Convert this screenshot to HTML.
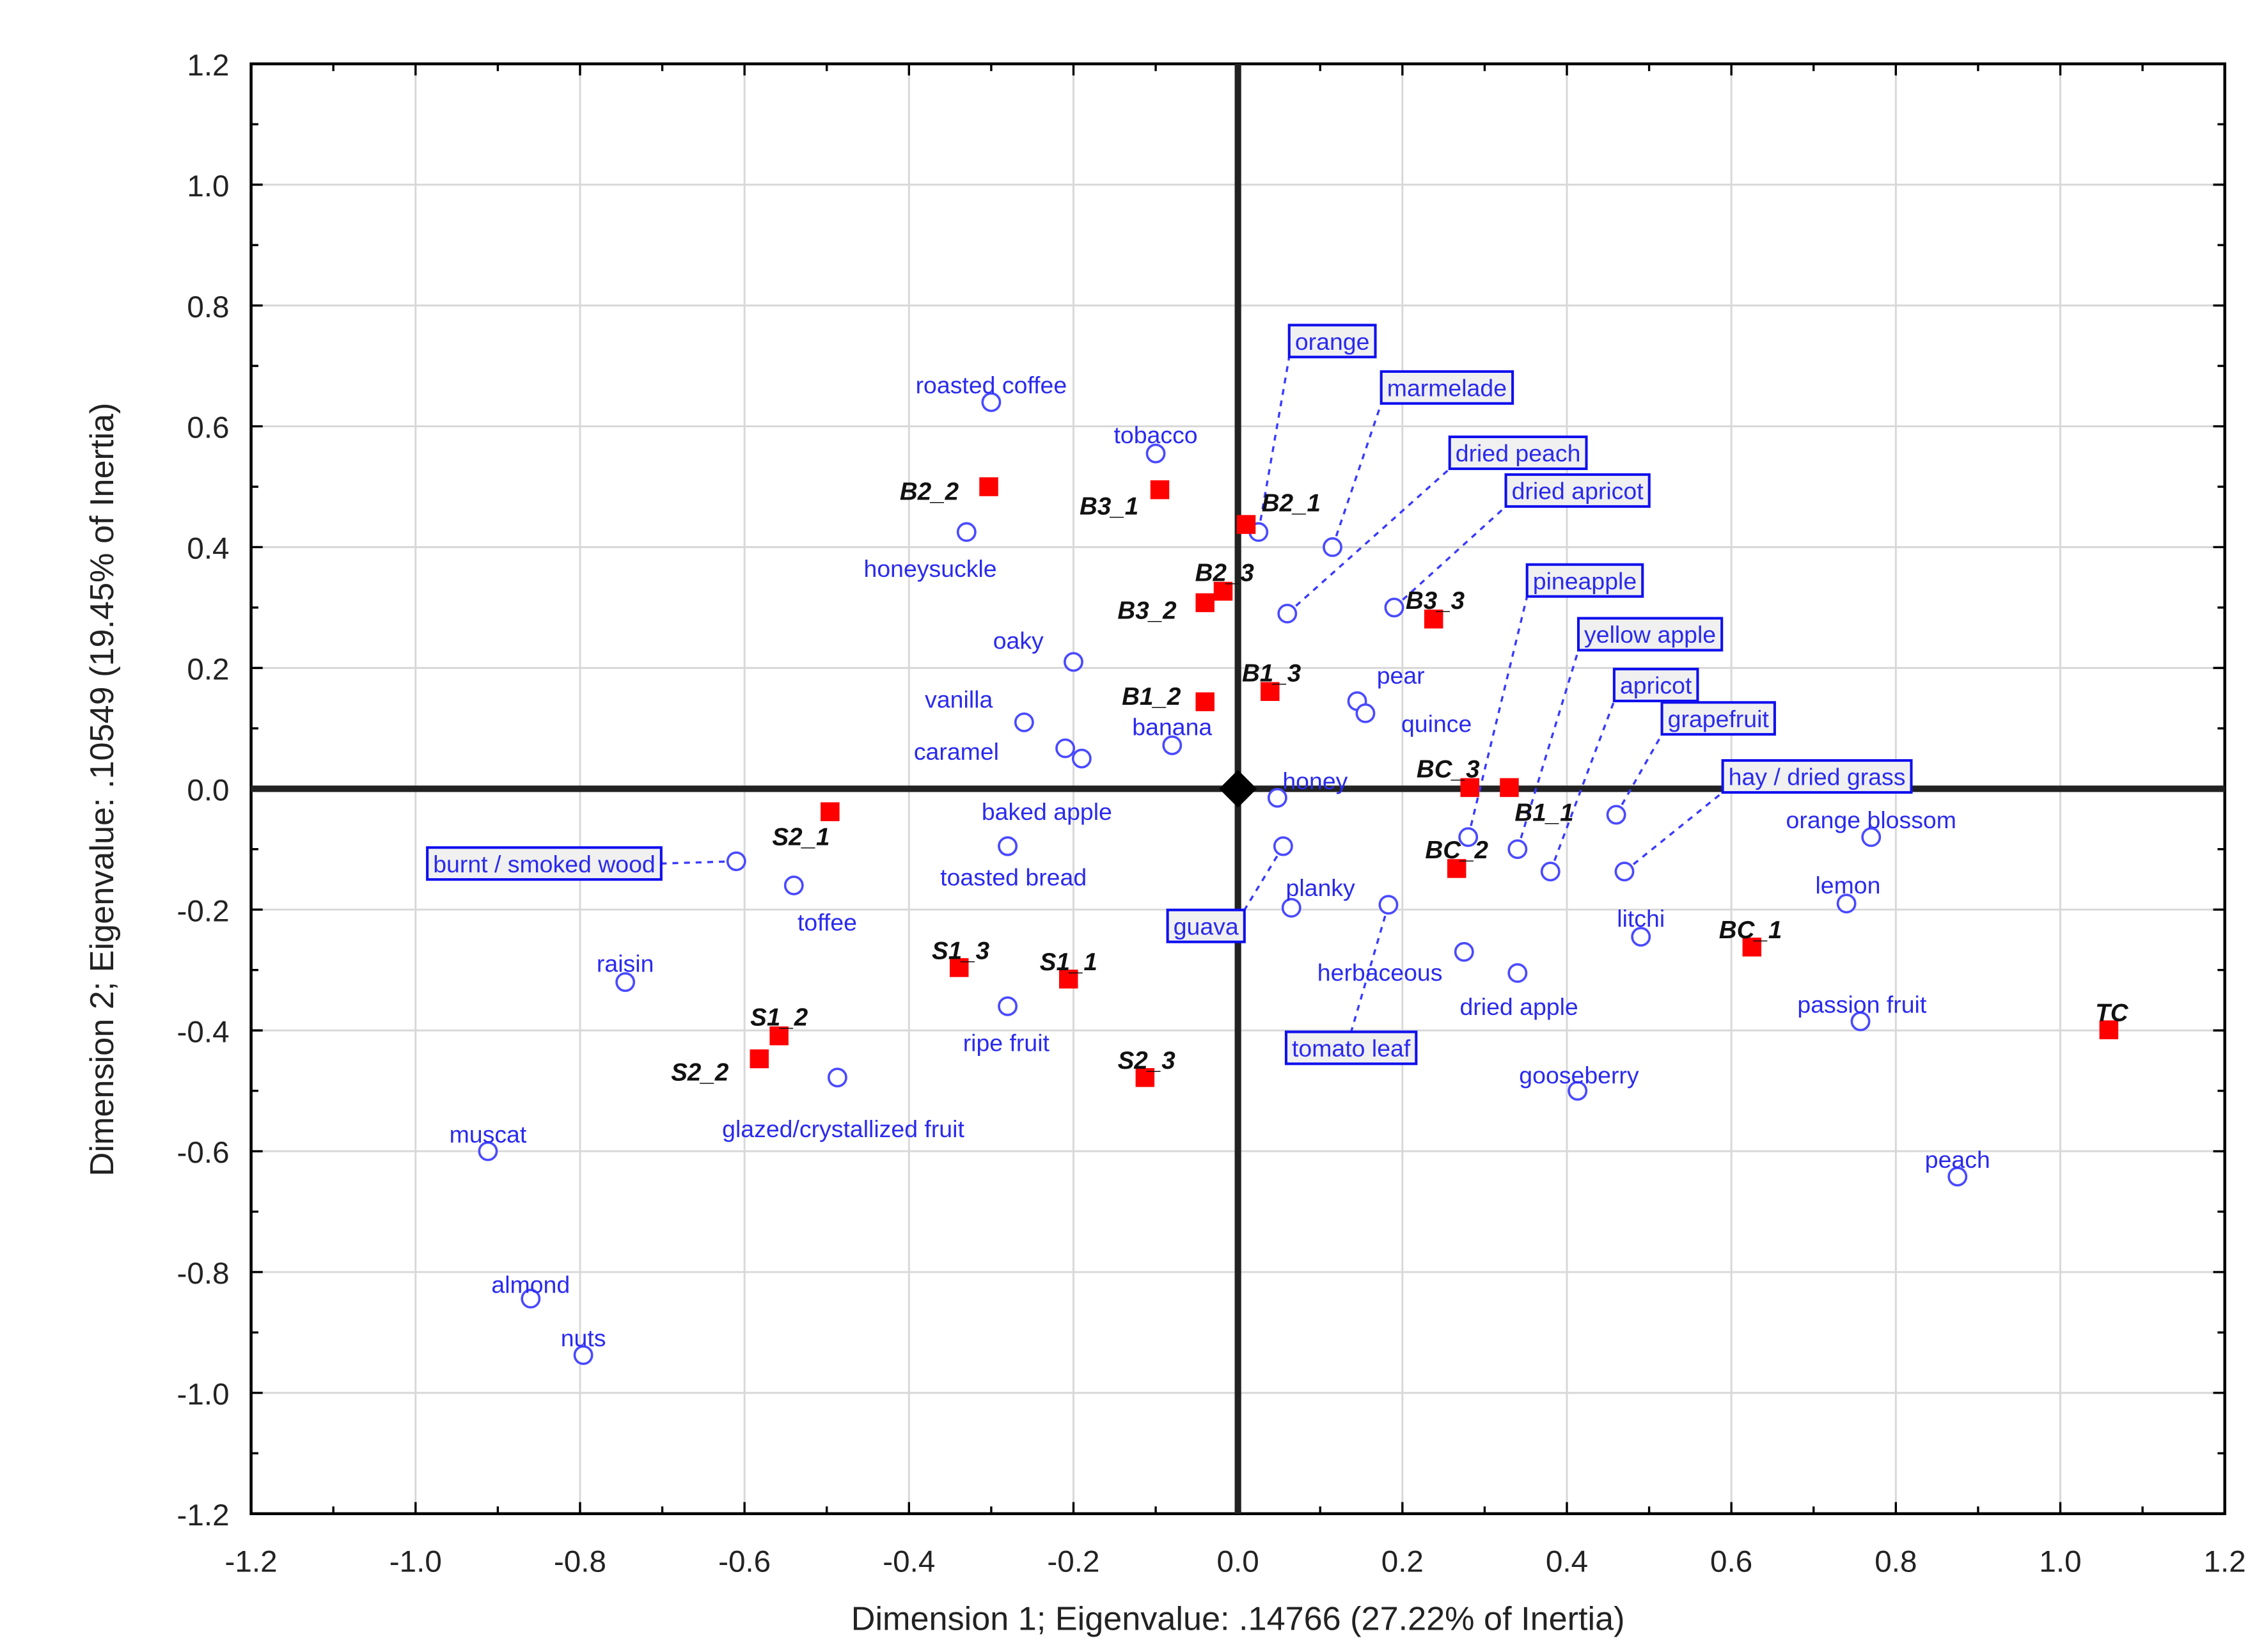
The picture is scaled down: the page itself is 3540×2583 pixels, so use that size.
<!DOCTYPE html>
<html><head><meta charset="utf-8"><style>
html,body{margin:0;padding:0;background:#fff;}
svg{display:block;}
text{font-family:"Liberation Sans",sans-serif;}
</style></head><body>
<svg id="chart" xmlns="http://www.w3.org/2000/svg" width="3540" height="2583" viewBox="0 0 1560 1138.3">
<rect x="0" y="0" width="1560" height="1138.3" fill="#fff"/>
<g id="grid"></g>
<g id="axes"></g>
<g id="connectors"></g>
<g id="marks"></g>
<g id="labels"></g>
<text x="853" y="1123" text-anchor="middle" font-size="23" fill="#222">Dimension 1; Eigenvalue: .14766 (27.22% of Inertia)</text>
<text transform="translate(78,544) rotate(-90)" text-anchor="middle" font-size="23" fill="#222">Dimension 2; Eigenvalue: .10549 (19.45% of Inertia)</text>
</svg>
<script>
// ---- data ----
const xTicks = [-1.2,-1.0,-0.8,-0.6,-0.4,-0.2,0.0,0.2,0.4,0.6,0.8,1.0,1.2];
const yTicks = [1.2,1.0,0.8,0.6,0.4,0.2,0.0,-0.2,-0.4,-0.6,-0.8,-1.0,-1.2];
const attrNames = ["roasted coffee","tobacco","honeysuckle","oaky","pear","quince","vanilla","caramel","caramel2","banana","honey","baked apple","toasted bread","toffee","orange blossom","lemon","planky","herbaceous","dried apple","litchi","raisin","ripe fruit","passion fruit","glazed/crystallized fruit","gooseberry","muscat","peach","almond","nuts"];
const attrX = [-0.30,-0.10,-0.33,-0.20,0.145,0.155,-0.26,-0.21,-0.19,-0.08,0.048,-0.28,-0.28,-0.54,0.77,0.74,0.065,0.275,0.34,0.49,-0.745,-0.28,0.757,-0.487,0.413,-0.912,0.875,-0.86,-0.796];
const attrY = [0.64,0.555,0.425,0.21,0.145,0.125,0.11,0.067,0.05,0.072,-0.015,-0.095,-0.095,-0.16,-0.08,-0.19,-0.197,-0.27,-0.305,-0.245,-0.32,-0.36,-0.385,-0.478,-0.50,-0.60,-0.642,-0.844,-0.9375];
const boxNames = ["orange","marmelade","dried peach","dried apricot","pineapple","yellow apple","apricot","grapefruit","hay / dried grass","burnt / smoked wood","guava","tomato leaf"];
const boxX = [0.025,0.115,0.06,0.19,0.28,0.34,0.38,0.46,0.47,-0.61,0.055,0.183];
const boxY = [0.425,0.40,0.29,0.30,-0.08,-0.10,-0.137,-0.043,-0.137,-0.12,-0.095,-0.192];
const sampleNames = ["B2_2","B3_1","B2_1","B2_3","B3_2","B3_3","B1_3","B1_2","BC_3","B1_1","BC_2","S2_1","BC_1","TC","S1_3","S1_1","S1_2","S2_2","S2_3"];
const sampleX = [-0.303,-0.095,0.01,-0.018,-0.04,0.238,0.039,-0.04,0.282,0.33,0.266,-0.496,0.625,1.059,-0.339,-0.206,-0.558,-0.582,-0.113];
const sampleY = [0.50,0.495,0.4375,0.327,0.308,0.281,0.161,0.144,0.002,0.002,-0.132,-0.038,-0.262,-0.399,-0.296,-0.315,-0.409,-0.447,-0.478];
// ---- layout (label offsets, px) ----
const attrOff = [[0,-12],[0,-13],[-25,25],[-38,-15],[30,-18],[49,7],[-45,-16],[-75,2],[0,0],[0,-13],[26,-12],[27,-24],[4,21],[23,25],[0,-12],[1,-13],[20,-14],[-58,14],[1,23],[0,-13],[0,-13],[-1,25],[1,-12],[4,35],[1,-11],[0,-12],[0,-12],[0,-10],[0,-12]];
const boxPos = [[918,235,'bl'],[997,267,'bl'],[1046,312,'bl'],[1087,338,'bl'],[1092,400,'bl'],[1137,437,'bl'],[1141,472,'bl'],[1184,495,'bl'],[1252,535,'bl'],[375,595,'r'],[831,638,'tr'],[931,722,'t']];
const sampleOff = [[-41,3],[-35,11],[31,-15],[1,-13],[-40,5],[1,-13],[1,-13],[-37,-4],[-15,-13],[24,17],[0,-13],[-20,17],[-1,-12],[2,-12],[1,-12],[0,-12],[0,-13],[-41,9],[1,-12]];

const L=173,R=1533,T=44,B=1043;
function sx(v){return L+(v+1.2)/2.4*(R-L);}
function sy(v){return T+(1.2-v)/2.4*(B-T);}
const NS="http://www.w3.org/2000/svg";
function mk(tag,attrs,parent){const e=document.createElementNS(NS,tag);for(const k in attrs)e.setAttribute(k,attrs[k]);parent.appendChild(e);return e;}
const grid=document.getElementById('grid'),axes=document.getElementById('axes'),conn=document.getElementById('connectors'),marks=document.getElementById('marks'),labels=document.getElementById('labels');

xTicks.forEach(v=>{
  const g=mk('line',{x1:sx(v),x2:sx(v),y1:T,y2:B,stroke:'#d8d8d8','stroke-width':1.3},grid);
  
  
  const t=mk('text',{x:sx(v),y:B+40,'text-anchor':'middle','font-size':21,fill:'#222'},axes);
  t.textContent=v.toFixed(1);
  
  
});
yTicks.forEach(v=>{
  const g=mk('line',{x1:L,x2:R,y1:sy(v),y2:sy(v),stroke:'#d8d8d8','stroke-width':1.3},grid);
  
  
  const t=mk('text',{x:L-15,y:sy(v)+8,'text-anchor':'end','font-size':21,fill:'#222'},axes);
  t.textContent=v.toFixed(1);
  
  
});
for(let i=0;i<24;i++){
  const v=-1.2+i*0.1, big=(i%2===0);
  mk('line',{x1:sx(v),x2:sx(v),y1:B,y2:B-(big?8:5),stroke:'#000','stroke-width':1.5},axes);
  mk('line',{x1:sx(v),x2:sx(v),y1:T,y2:T+(big?8:5),stroke:'#000','stroke-width':1.5},axes);
  mk('line',{x1:L,x2:L+(big?8:5),y1:sy(v),y2:sy(v),stroke:'#000','stroke-width':1.5},axes);
  mk('line',{x1:R,x2:R-(big?8:5),y1:sy(v),y2:sy(v),stroke:'#000','stroke-width':1.5},axes);
}
const fr=mk('rect',{x:L,y:T,width:R-L,height:B-T,fill:'none',stroke:'#000','stroke-width':2},axes);


const zx=mk('line',{x1:sx(0),x2:sx(0),y1:T,y2:B,stroke:'#222','stroke-width':4.5},axes);


const zy=mk('line',{x1:L,x2:R,y1:sy(0),y2:sy(0),stroke:'#222','stroke-width':4.5},axes);


const d=mk('polygon',{points:`${sx(0)},${sy(0)-13} ${sx(0)+13},${sy(0)} ${sx(0)},${sy(0)+13} ${sx(0)-13},${sy(0)}`,fill:'#000'},axes);



function circle(x,y,name){
  const c=mk('circle',{cx:sx(x),cy:sy(y),r:6,fill:'#fff',stroke:'#4a4aff','stroke-width':1.6},marks);
  
  
}
attrNames.forEach((n,i)=>{
  circle(attrX[i],attrY[i],'attribute-point');
  if(n==='caramel2')return;
  const t=mk('text',{x:sx(attrX[i])+attrOff[i][0],y:sy(attrY[i])+attrOff[i][1]+6,'text-anchor':'middle','font-size':16.5,fill:'#2a2aee'},labels);
  t.textContent=n;
  
  
});
boxNames.forEach((n,i)=>{
  circle(boxX[i],boxY[i],'attribute-point');
  const [cx,cy,corner]=boxPos[i];
  const t=mk('text',{x:cx,y:cy+6,'text-anchor':'middle','font-size':16.5,fill:'#2a2aee'},labels);
  t.textContent=n;
  
  
  const w=t.getComputedTextLength()+8,h=22;
  const r=document.createElementNS(NS,'rect');
  r.setAttribute('x',cx-w/2);r.setAttribute('y',cy-h/2);r.setAttribute('width',w);r.setAttribute('height',h);
  r.setAttribute('fill','#f0f0f0');r.setAttribute('stroke','#1010ee');r.setAttribute('stroke-width',1.8);
  
  
  labels.insertBefore(r,t);
  let ex=cx,ey=cy;
  if(corner==='bl'){ex=cx-w/2;ey=cy+h/2;}
  else if(corner==='r'){ex=cx+w/2;ey=cy;}
  else if(corner==='tr'){ex=cx+w/2;ey=cy-h/2;}
  else if(corner==='t'){ex=cx;ey=cy-h/2;}
  const l=mk('line',{x1:sx(boxX[i]),y1:sy(boxY[i]),x2:ex,y2:ey,stroke:'#3a3aff','stroke-width':1.5,'stroke-dasharray':'4,4'},conn);
  
  
});
sampleNames.forEach((n,i)=>{
  const s=mk('rect',{x:sx(sampleX[i])-6.5,y:sy(sampleY[i])-6.5,width:13,height:13,fill:'#ff0000'},marks);
  
  
  const t=mk('text',{x:sx(sampleX[i])+sampleOff[i][0],y:sy(sampleY[i])+sampleOff[i][1]+6,'text-anchor':'middle','font-size':17,'font-weight':'bold','font-style':'italic',fill:'#111'},labels);
  t.textContent=n;
  
  
});
</script>
</body></html>
